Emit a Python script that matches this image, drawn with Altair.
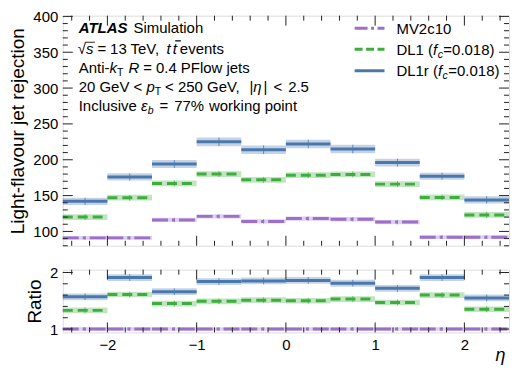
import altair as alt
import pandas as pd

# ---------------- data ----------------
eta_lo = [-2.5, -2.0, -1.5, -1.0, -0.5, 0.0, 0.5, 1.0, 1.5, 2.0]
eta_hi = [-2.0, -1.5, -1.0, -0.5, 0.0, 0.5, 1.0, 1.5, 2.0, 2.5]
eta_mid = [-2.25, -1.75, -1.25, -0.75, -0.25, 0.25, 0.75, 1.25, 1.75, 2.25]

series_names = ["MV2c10", "DL1", "DL1r"]
series_colors = ["#9b6fca", "#3dae3d", "#4a78ad"]

rej_mv2c10 = [91, 91, 116, 121, 114, 118, 117, 113, 92, 92]
rej_dl1 = [120, 147, 167, 180, 172, 178.5, 179.5, 166, 147.5, 123]
rej_dl1r = [142, 176, 194, 225, 214, 222, 215, 196, 177, 144]
err_mv2c10 = [2.5, 2.5, 3, 3, 3, 3, 3, 3, 2.5, 2.5]
err_dl1 = [4, 4, 4, 4, 4, 4, 4, 4, 4, 4]
err_dl1r = [5, 5, 5.5, 6, 6, 6, 6, 5.5, 5, 5]

ratio_mv2c10 = [1.0, 1.0, 1.0, 1.0, 1.0, 1.0, 1.0, 1.0, 1.0, 1.0]
ratio_dl1 = [1.33, 1.61, 1.45, 1.49, 1.51, 1.50, 1.53, 1.47, 1.60, 1.35]
ratio_dl1r = [1.57, 1.91, 1.66, 1.84, 1.85, 1.86, 1.81, 1.72, 1.91, 1.55]
rerr_mv2c10 = [0.03] * 10
rerr_dl1 = [0.05] * 10
rerr_dl1r = [0.06] * 10

x_major = [-2, -1, 0, 1, 2]
x_minor = [-2.4, -2.2, -1.8, -1.6, -1.4, -1.2, -0.8, -0.6, -0.4, -0.2,
           0.2, 0.4, 0.6, 0.8, 1.2, 1.4, 1.6, 1.8, 2.2, 2.4]
y_major_top = [100, 150, 200, 250, 300, 350, 400]
y_minor_top = [v for v in range(80, 401, 10) if v % 50 != 0]
y_major_ratio = [1, 2]
y_minor_ratio = [1.2, 1.4, 1.6, 1.8]

FONT = "Liberation Sans"
INK = "#222222"
FS = 15
W = 448
H_TOP, H_RAT = 231, 63


def build(vals_list, errs_list):
    rows = []
    for name, vals, errs in zip(series_names, vals_list, errs_list):
        for lo, hi, mid, v, e in zip(eta_lo, eta_hi, eta_mid, vals, errs):
            rows.append({"series": name, "lo": lo, "hi": hi, "mid": mid,
                         "val": v, "elo": v - e, "ehi": v + e})
    return pd.DataFrame(rows)


df_top = build([rej_mv2c10, rej_dl1, rej_dl1r], [err_mv2c10, err_dl1, err_dl1r])
df_rat = build([ratio_mv2c10, ratio_dl1, ratio_dl1r], [rerr_mv2c10, rerr_dl1, rerr_dl1r])

color_scale = alt.Scale(domain=series_names, range=series_colors)
dash_scale = alt.Scale(domain=series_names, range=[[16, 4, 3, 4], [10, 5], [1, 0]])
xscale = alt.Scale(domain=[-2.5, 2.5], nice=False, zero=False)


def panel(df, yscale, ymaj, ymin, ytitle, bottom_labels, height):
    if bottom_labels:
        xax = alt.Axis(values=x_major, ticks=False, tickSize=0, domain=False, grid=False,
                       labels=True, labelPadding=5, labelFontSize=15,
                       labelFont=FONT, labelColor="black",
                       title="η", titleFont=FONT, titleFontSize=18,
                       titleFontStyle="italic", titleFontWeight="normal",
                       titleColor="black", titleAlign="right", titleAnchor="end",
                       titleX=W - 4, titleY=28, titleBaseline="alphabetic")
    else:
        xax = None
    yax = alt.Axis(values=ymaj, format="d", ticks=False, tickSize=0, domain=False,
                   grid=False, labels=True, labelPadding=5, labelFontSize=15,
                   labelFont=FONT, labelColor="black", title=ytitle, titleFont=FONT,
                   titleFontSize=19, titleFontWeight="normal", titlePadding=5,
                   titleColor="black")

    bands = alt.Chart(df).mark_rect(opacity=0.32).encode(
        x=alt.X("lo:Q", scale=xscale, axis=xax), x2="hi:Q",
        y=alt.Y("elo:Q", scale=yscale, axis=yax), y2="ehi:Q",
        color=alt.Color("series:N", scale=color_scale, legend=None),
    )
    lines = alt.Chart(df).mark_rule(strokeWidth=3).encode(
        x=alt.X("lo:Q", scale=xscale, axis=xax), x2="hi:Q",
        y=alt.Y("val:Q", scale=yscale, axis=yax),
        color=alt.Color("series:N", scale=color_scale, legend=None),
        strokeDash=alt.StrokeDash("series:N", scale=dash_scale, legend=None),
    )
    vticks = alt.Chart(df).mark_rule(strokeWidth=1, opacity=0.8).encode(
        x=alt.X("mid:Q", scale=xscale, axis=xax),
        y=alt.Y("elo:Q", scale=yscale, axis=yax), y2="ehi:Q",
        color=alt.Color("series:N", scale=color_scale, legend=None),
    )
    layers = [bands, lines, vticks]

    # inward tick marks on all four sides, placed through the scales
    for vals, ln in [(ymaj, 10), (ymin, 5)]:
        d = pd.DataFrame({"v": vals})
        for x1, x2 in [(0, ln), (W - ln, W)]:
            layers.append(alt.Chart(d).mark_rule(color=INK, strokeWidth=1).encode(
                y=alt.Y("v:Q", scale=yscale, axis=yax),
                x=alt.value(x1), x2=alt.value(x2)))
    for vals, ln in [(x_major, 10), (x_minor, 5)]:
        d = pd.DataFrame({"v": vals})
        for y1, y2 in [(height - ln, height), (0, ln)]:
            layers.append(alt.Chart(d).mark_rule(color=INK, strokeWidth=1).encode(
                x=alt.X("v:Q", scale=xscale, axis=xax),
                y=alt.value(y1), y2=alt.value(y2)))
    return layers


# ---------------- annotation text (Arial/Liberation metrics) ----------------
OX, OY = 62, 14.8  # top plot origin in page coordinates

W_REG = {' ': 278, '%': 889, '(': 333, ')': 333, ',': 278, '-': 333, '.': 278,
         '<': 584, '=': 584, '|': 260, 'A': 667, 'C': 722, 'D': 722, 'F': 611,
         'G': 778, 'I': 278, 'L': 556, 'M': 833, 'P': 667, 'R': 722, 'S': 667,
         'T': 611, 'V': 667, 'a': 556, 'b': 556, 'c': 500, 'e': 556, 'f': 278,
         'g': 556, 'i': 222, 'j': 222, 'k': 500, 'l': 222, 'm': 833, 'n': 556,
         'o': 556, 'p': 556, 'r': 333, 's': 500, 't': 278, 'u': 556, 'v': 500,
         'w': 722, 'η': 556, 'ε': 446, '√': 549}
for d in "0123456789":
    W_REG[d] = 556
W_BOLD = {'A': 722, 'T': 611, 'L': 611, 'S': 667}


def twidth(s, size, bold=False):
    tot = 0
    for ch in s:
        tot += (W_BOLD.get(ch) if bold and ch in W_BOLD else W_REG.get(ch, 556))
    return tot * size / 1000.0


def txt(s, x, y, size=FS, style="normal", weight="normal"):
    return alt.Chart(pd.DataFrame({"t": [s]})).mark_text(
        align="left", baseline="alphabetic", fontSize=size, fontStyle=style,
        fontWeight=weight, font=FONT, color="black",
    ).encode(x=alt.value(x - OX), y=alt.value(y - OY), text="t:N")


def seg(x1, x2, y, color, dash, width=3):
    return alt.Chart(pd.DataFrame({"a": [0]})).mark_rule(
        strokeWidth=width, color=color, strokeDash=dash
    ).encode(x=alt.value(x1 - OX), x2=alt.value(x2 - OX), y=alt.value(y - OY))


def chain(x0, base, parts):
    """parts: (text, kind) with kind n / i / bi / sub / subi / iover / ibar, or a gap."""
    out = []
    x = x0
    for p in parts:
        if isinstance(p, (int, float)):
            x += p
            continue
        s, kind = p
        if kind in ("sub", "subi"):
            size = FS * 0.7
            out.append(txt(s, x, base + FS * 0.22, size=size,
                           style="italic" if kind == "subi" else "normal"))
            x += twidth(s, size)
        else:
            bold = kind == "bi"
            italic = kind in ("i", "bi", "ibar", "iover")
            out.append(txt(s, x, base, style="italic" if italic else "normal",
                           weight="bold" if bold else "normal"))
            w = twidth(s, FS, bold)
            if kind == "iover":   # sqrt overline
                out.append(seg(x - 0.5, x + w + 1.5, base - 11.5, "black", [1, 0], 1))
            if kind == "ibar":    # bar accent above the letter
                out.append(seg(x + 2.5, x + w + 4, base - 13, "black", [1, 0], 1.2))
            x += w
    return out


E = 4  # math spacing around relations
b1, b2, b3, b4, b5 = 32.5, 53, 72, 91.3, 110.5
annot = []
annot += chain(78, b1, [("ATLAS", "bi"), 5, ("Simulation", "n")])
annot += chain(77, b2, [("√", "n"), ("s", "iover"), E, ("=", "n"), E, ("13 TeV, ", "n"),
                        ("t", "i"), 2, ("t", "ibar"), 3, (" events", "n")])
annot += chain(78, b3, [("Anti-", "n"), ("k", "i"), ("T", "sub"), 1, (" ", "n"),
                        ("R", "i"), E, ("=", "n"), E, ("0.4 PFlow jets", "n")])
annot += chain(78, b4, [("20 GeV < ", "n"), ("p", "i"), ("T", "sub"), 4,
                        (" < 250 GeV, ", "n"), ("|", "n"), ("η", "i"), 2,
                        ("|", "n"), 6, ("<", "n"), 6, ("2.5", "n")])
annot += chain(78, b5, [("Inclusive ", "n"), ("ε", "i"), ("b", "subi"), 6, ("=", "n"),
                        6, ("77%", "n"), 5, (" working point", "n")])

# legend (manual, to allow italic subscripts)
leg_y = [27.5, 48.5, 70]
dash_leg = [[13, 3.5, 3, 3.5], [8, 3.5], [1, 0]]
for yy, col, dsh in zip(leg_y, series_colors, dash_leg):
    annot.append(seg(355, 385, yy, col, dsh))
annot += chain(397, leg_y[0] + 5.4, [("MV2c10", "n")])
annot += chain(397, leg_y[1] + 5.4, [("DL1 (", "n"), ("f", "i"), 0.5, ("c", "subi"),
                                     0.5, ("=0.018)", "n")])
annot += chain(397, leg_y[2] + 5.4, [("DL1r (", "n"), ("f", "i"), 0.5, ("c", "subi"),
                                     0.5, ("=0.018)", "n")])

yscale_top = alt.Scale(domain=[80, 401], nice=False, zero=False)
yscale_rat = alt.Scale(domain=[0.94, 2.05], nice=False, zero=False)

top = alt.layer(
    *panel(df_top, yscale_top, y_major_top, y_minor_top,
           "Light-flavour jet rejection", False, H_TOP),
    *annot,
).properties(width=W, height=H_TOP)

bottom = alt.layer(
    *panel(df_rat, yscale_rat, y_major_ratio, y_minor_ratio, "Ratio", True, H_RAT),
).properties(width=W, height=H_RAT)

chart = alt.vconcat(top, bottom, spacing=18).properties(
    padding={"left": 0, "top": 0, "right": 0, "bottom": -1}
).configure_view(stroke=INK, strokeWidth=1.3).configure(font=FONT)

chart.save("out.html", embed_options={"renderer": "svg", "actions": False})
